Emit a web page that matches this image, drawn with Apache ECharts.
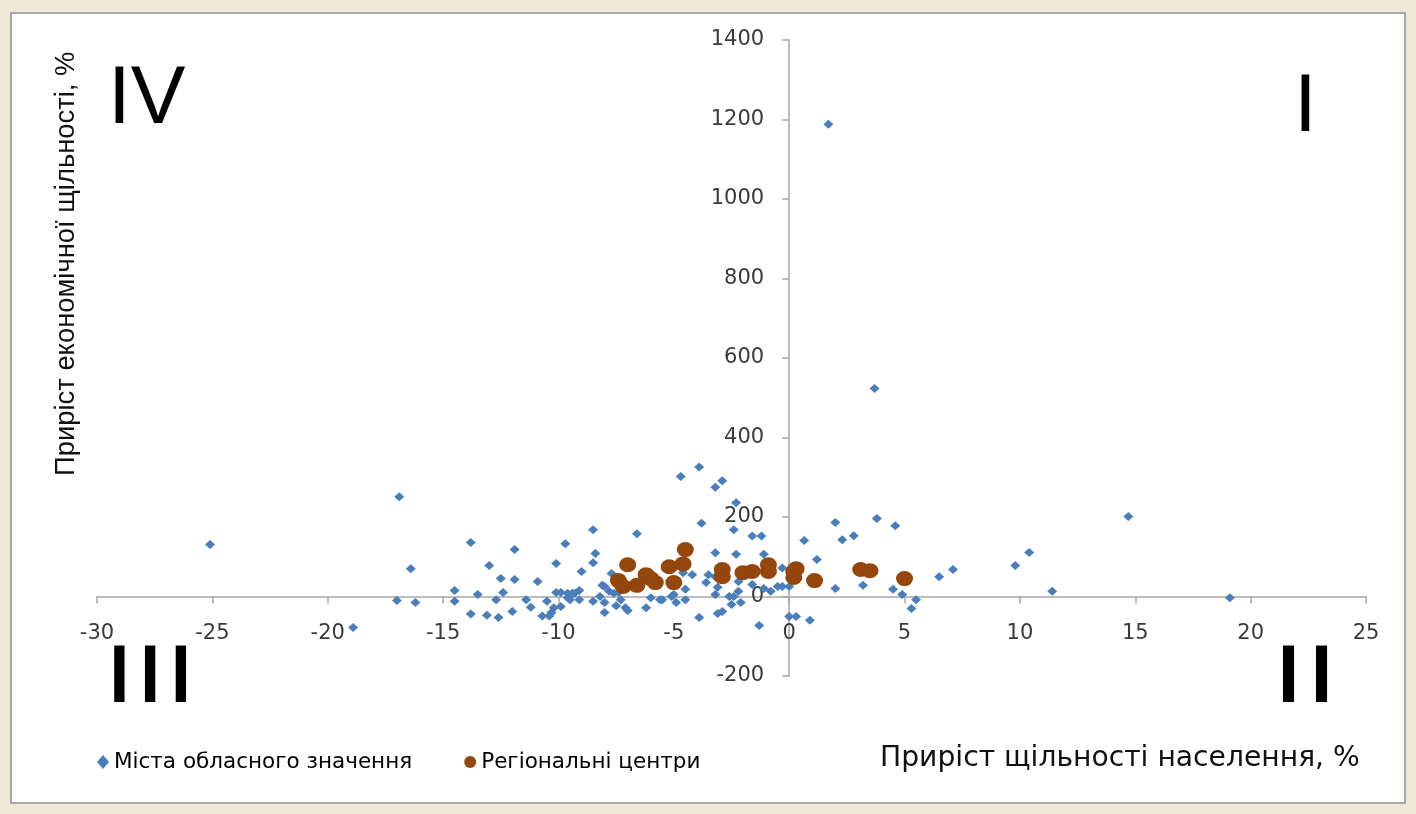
<!DOCTYPE html>
<html>
<head>
<meta charset="utf-8">
<script src="https://cdn.jsdelivr.net/npm/echarts@6/dist/echarts.min.js"></script>
<style>
html,body{margin:0;padding:0;background:#efe9d8;}
#panel{position:absolute;left:10px;top:12px;width:1396px;height:792px;background:#fff;border:2px solid #a8a8a8;box-sizing:border-box;}
#chart{position:absolute;left:0;top:0;width:1416px;height:814px;}
</style>
</head>
<body>
<div id="panel"></div>
<div id="chart"></div>
<script>
// Міста обласного значення
const citiesX = [-25.1,-16.9,-16.4,-17.0,-16.2,-18.9,-13.8,-11.9,-13.0,-12.5,-11.9,-10.9,-14.5,-12.4,-13.5,-14.5,-12.7,-11.4,-11.2,-10.5,
  -10.2,-13.8,-13.1,-12.6,-12.0,-10.7,-10.4,-10.1,-8.5,-6.6,-9.7,-8.4,-8.5,-10.1,-9.0,-7.7,-7.5,-8.1,-9.9,-9.6,
  -9.4,-9.1,-8.2,-7.6,-9.9,-9.5,-8.5,-8.0,-7.5,-7.1,-8.0,-6.2,-6.0,-5.6,-5.1,-7.3,-4.7,-3.9,-3.2,-2.9,
  -2.3,-3.8,-2.4,-1.6,-1.2,-3.2,-2.3,-1.1,-0.3,-4.2,-4.6,-3.5,-3.6,-2.2,-3.1,-3.2,-4.5,-5.0,-5.5,-4.9,
  -4.5,-2.6,-2.2,-2.5,-2.1,-2.9,-3.1,-3.9,-1.3,-0.8,-0.5,-0.3,-1.6,2.0,3.8,4.6,0.65,2.3,2.8,1.2,
  2.0,3.2,4.5,4.9,5.5,5.3,6.5,7.1,0.0,0.3,0.9,9.8,10.4,11.4,14.7,19.1,1.7,3.7,-10.3,-9.3,
  -9.6,-9.1,-7.0,-8.0,-7.8,-7.4,-3.2,-2.4,-1.1,0.0];
const citiesY = [131,251,70,-10,-15,-78,136,118,78,45,43,38,15,10,5,-12,-8,-8,-27,-12,
  -28,-44,-47,-53,-38,-49,-49,10,168,158,133,108,85,83,63,58,48,28,10,8,
  8,15,0,8,-25,-8,-12,-15,-23,-28,-40,-28,-3,-8,0,-8,302,326,275,291,
  236,184,168,152,152,110,106,106,72,55,60,55,35,38,23,5,18,5,-8,-15,
  -8,0,13,-20,-15,-38,-43,-53,-73,13,25,25,30,186,196,178,141,143,153,93,
  20,28,18,5,-8,-30,50,68,-50,-50,-60,78,111,13,201,-3,1188,523,-40,8,
  -3,-8,-35,25,13,10,50,0,20,25];
// Регіональні центри
const centresX = [-7.0,-7.4,-7.2,-6.6,-6.2,-6.0,-5.8,-5.2,-5.0,-4.6,-4.5,-2.9,-2.9,-2.0,-1.6,-0.9,-0.9,0.2,0.3,0.2,1.1,3.1,3.5,5.0];
const centresY = [80,40,25,28,55,45,35,75,35,82,118,68,50,60,63,80,63,63,70,48,40,68,65,45];

const xMin = -30, xMax = 25, xStep = 5;
const yMin = -200, yMax = 1400, yStep = 200;
const seriesNames = ['Міста обласного значення', 'Регіональні центри'];
const xTitle = 'Приріст щільності населення, %';
const yTitle = 'Приріст економічної щільності, %';
const quadrants = ['I', 'II', 'III', 'IV'];

const cities = citiesX.map((x, i) => [x, citiesY[i]]);
const centres = centresX.map((x, i) => [x, centresY[i]]);

// grid layout
const W = 1416, H = 814;
const gLeft = 97, gRight = 50, gTop = 40, gBottom = 138;
const gW = W - gLeft - gRight, gH = H - gTop - gBottom;
// shift axes so they cross at zero (labels follow)
const yAxisOffset = -gW * (0 - xMin) / (xMax - xMin);
const xAxisOffset = -gH * (0 - yMin) / (yMax - yMin);

const chart = echarts.init(document.getElementById('chart'), null, {renderer: 'canvas'});
const labelFont = {color: '#3a3a3a', fontSize: 21, fontFamily: 'DejaVu Sans', formatter: v => String(v)};
const bigFont = {fontFamily: 'Liberation Sans', fontSize: 82, fill: '#000'};
const axisCol = '#a6a6a6';

chart.setOption({
  backgroundColor: 'transparent',
  animation: false,
  grid: {left: gLeft, right: gRight, top: gTop, bottom: gBottom, containLabel: false},
  xAxis: {
    type: 'value', min: xMin, max: xMax, interval: xStep, position: 'bottom', offset: xAxisOffset,
    axisLine: {onZero: false, lineStyle: {color: axisCol, width: 1.5}},
    axisTick: {show: true, inside: false, length: 7, lineStyle: {color: axisCol, width: 1.5}},
    axisLabel: Object.assign({margin: 27}, labelFont),
    splitLine: {show: false}
  },
  yAxis: {
    type: 'value', min: yMin, max: yMax, interval: yStep, position: 'left', offset: yAxisOffset,
    axisLine: {show: true, onZero: false, lineStyle: {color: axisCol, width: 1.5}},
    axisTick: {show: true, inside: false, length: 7, lineStyle: {color: axisCol, width: 1.5}},
    axisLabel: Object.assign({margin: 25}, labelFont),
    splitLine: {show: false}
  },
  legend: {
    left: 92, top: 746, itemGap: 52, itemWidth: 12, itemHeight: 14,
    textStyle: {color: '#000', fontSize: 21.5, fontFamily: 'DejaVu Sans'},
    data: [{name: seriesNames[0], icon: 'diamond', itemStyle: {color: '#4a7ebb'}},
           {name: seriesNames[1], icon: 'circle', itemStyle: {color: '#94460c'}}]
  },
  series: [
    {name: seriesNames[0], type: 'scatter', data: cities, symbol: 'diamond', symbolSize: [10, 9],
     itemStyle: {color: '#4a7ebb', opacity: 1}, z: 2},
    {name: seriesNames[1], type: 'scatter', data: centres, symbol: 'circle', symbolSize: [17, 15],
     itemStyle: {color: '#94460c', opacity: 1}, z: 3}
  ],
  graphic: [
    {type: 'text', left: 880, top: 745, style: {text: xTitle, fontSize: 28.2, fontFamily: 'DejaVu Sans', fill: '#111'}},
    {type: 'text', x: 53, y: 476, rotation: Math.PI / 2, style: {text: yTitle, fontSize: 27.4, fontFamily: 'Liberation Sans', fill: '#111', textAlign: 'left', textVerticalAlign: 'top'}},
    {type: 'text', x: 108, y: 100, style: Object.assign({text: quadrants[3], textVerticalAlign: 'middle'}, bigFont)},
    {type: 'text', x: 1294, y: 108, style: Object.assign({text: quadrants[0], textVerticalAlign: 'middle'}, bigFont)},
    {type: 'text', x: 104, y: 679, scaleX: 1.35, style: Object.assign({text: quadrants[2], textVerticalAlign: 'middle'}, bigFont)},
    {type: 'text', x: 1272, y: 679, scaleX: 1.45, style: Object.assign({text: quadrants[1], textVerticalAlign: 'middle'}, bigFont)}
  ]
});
</script>
</body>
</html>
